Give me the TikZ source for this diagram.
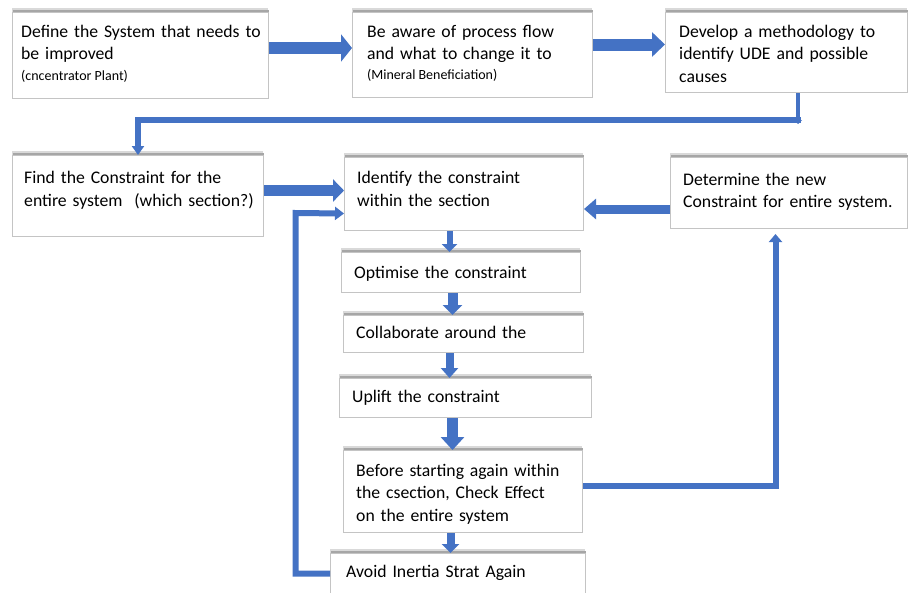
\documentclass[tikz,border=0pt]{standalone}
\usepackage{fontspec}
\setmainfont{Carlito}
\usetikzlibrary{arrows.meta,calc,shadows}
\definecolor{arrowblue}{HTML}{4472C4}
\definecolor{boxline}{HTML}{C4C4C4}
\begin{document}
\begin{tikzpicture}[x=1pt,y=-1pt,
  box/.style={rectangle, draw=boxline, line width=1pt, fill=white, inner sep=0pt, anchor=north west,
    general shadow={fill=gray!30, shadow yshift=5pt, shadow xshift=-0.5pt},
    general shadow={fill=gray!70, shadow yshift=3pt}},
  txt/.style={anchor=base west, inner sep=0pt, align=left, text width=#1,
    font=\fontsize{17.7pt}{22.5pt}\selectfont, text=black},
  smalltxt/.style={anchor=base west, inner sep=0pt, font=\fontsize{14pt}{17pt}\selectfont, text=black},
  fat/.style n args={3}{draw=arrowblue, color=arrowblue, line width=#1, -{Triangle[width=#2, length=#3]}},
  link/.style n args={3}{draw=arrowblue, color=arrowblue, line width=#1, -{Triangle[width=#2, length=#3]}}
]
\clip (0,0) rectangle (909,592);
\fill[white] (0,0) rectangle (909,592);

% boxes
\node[box, minimum width=256pt, minimum height=86pt] (b1) at (12,12) {};
\node[box, minimum width=240pt, minimum height=85pt] (b2) at (352,12) {};
\node[box, minimum width=242pt, minimum height=80pt] (b3) at (665,12) {};
\node[box, minimum width=251pt, minimum height=81pt] (b4) at (12,155) {};
\node[box, minimum width=239pt, minimum height=73pt] (b5) at (344,157) {};
\node[box, minimum width=237pt, minimum height=71pt] (b6) at (670,157) {};
\node[box, minimum width=239pt, minimum height=40pt] (opt) at (341,252) {};
\node[box, minimum width=240pt, minimum height=37pt] (col) at (343,315) {};
\node[box, minimum width=252pt, minimum height=39pt] (upl) at (339,378) {};
\node[box, minimum width=239pt, minimum height=82pt] (bef) at (343,450) {};
\node[box, minimum width=255pt, minimum height=40pt] (avo) at (330,553) {};

% texts
\node[txt=245pt] (t1) at (21,37) {Define the System that needs to\\be improved};
\node[smalltxt] (s1) at (21,80) {(cncentrator Plant)};
\node[txt=225pt] (t2) at (367,37) {Be aware of process flow\\and what to change it to};
\node[smalltxt] (s2) at (367,79) {(Mineral Beneficiation)};
\node[txt=225pt] (t3) at (679,37) {Develop a methodology to\\identify UDE and possible\\causes};
\node[txt=238pt] (t4) at (24,183.5) {Find the Constraint for the\\entire system\ \ (which section?)};
\node[txt=222pt] (t5) at (357,183.5) {Identify the constraint\\within the section};
\node[txt=222pt] (t6) at (683,185) {Determine the new\\Constraint for entire system.};
\node[txt=222pt] (t7) at (354,278.5) {Optimise the constraint};
\node[txt=222pt] (t8) at (356,338.5) {Collaborate around the};
\node[txt=222pt] (t9) at (352,402.5) {Uplift the constraint};
\node[txt=222pt] (t10) at (356,476) {Before starting again within\\the csection, Check Effect\\on the entire system};
\node[txt=222pt] (t11) at (346,577.5) {Avoid Inertia Strat Again};

% block arrows
\draw[fat={12pt}{27pt}{11pt}] ([yshift=7.5pt]b1.east) -- ([yshift=7.5pt]b1.east -| b2.west);
\draw[fat={12pt}{24pt}{13pt}] ([yshift=10.5pt]b2.east) -- ([yshift=10.5pt]b2.east -| b3.west);
\draw[fat={11pt}{22pt}{11pt}] ([yshift=5.5pt]b4.east) -- ([yshift=5.5pt]b4.east -| b5.west);
\draw[fat={9pt}{20pt}{12pt}] ([yshift=-16pt]b6.west) -- ([yshift=-16pt]b6.west -| b5.east);

\draw[fat={6pt}{15pt}{8pt}] ([xshift=-14.5pt]b5.south) -- ([xshift=-14.5pt]b5.south |- opt.north);
\draw[fat={10pt}{19pt}{10pt}] ([xshift=-8.5pt]opt.south) -- ([xshift=-8.5pt]opt.south |- col.north);
\draw[fat={8pt}{17pt}{10pt}] ([xshift=-14pt]col.south) -- ([xshift=-14pt]col.south |- upl.north);
\draw[fat={11pt}{23pt}{13pt}] ([xshift=-13pt]upl.south) -- ([xshift=-13pt]upl.south |- bef.north);
\draw[fat={8pt}{17pt}{9pt}] ([xshift=-12.5pt]bef.south) -- ([xshift=-12.5pt]bef.south |- avo.north);

% elbow connectors
\coordinate (k1) at ([xshift=11.5pt,yshift=-31pt]b3.south);
\draw[link={4.5pt}{8pt}{4pt}] ([xshift=11.5pt]b3.south) -- (k1);
\draw[link={6pt}{12pt}{9pt}] ([xshift=14pt,yshift=-27pt]b3.south) -| (b4.north);

\coordinate (fb) at (295.5,213);
\draw[link={6pt}{13pt}{9pt}] (avo.west) -| (fb) -- ([yshift=-19.5pt]b5.west);

\draw[link={6pt}{13pt}{8pt}] ([yshift=6pt]bef.east) -| ([xshift=-13.5pt,yshift=-5pt]b6.south);
\end{tikzpicture}
\end{document}
